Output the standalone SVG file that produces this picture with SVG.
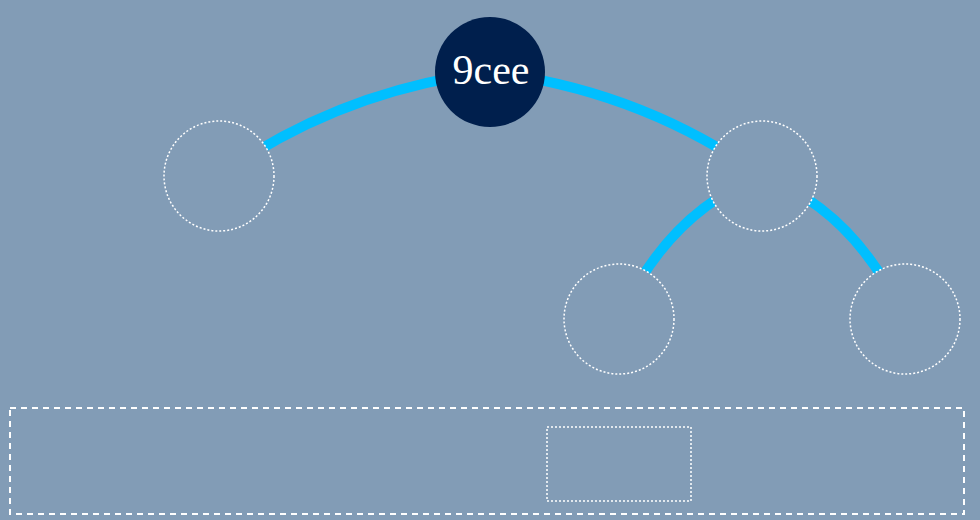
<svg xmlns="http://www.w3.org/2000/svg" width="980" height="520" viewBox="0 0 980 520">
<style>
.edge{fill:none;stroke:#00bfff;stroke-width:10}
.empty{fill:none;stroke:#ffffff;stroke-width:1.5;stroke-dasharray:2 2}
.lbl{font-family:"Liberation Serif","DejaVu Serif",serif;font-size:42px;fill:#ffffff;text-anchor:middle}
</style>
<rect x="0" y="0" width="980" height="520" fill="#829cb6"/>
<g id="connectors">
<path class="edge" d="M219,176 Q340,90 490,72"/>
<path class="edge" d="M490,72 Q640,90 762,176"/>
<path class="edge" d="M762,176 Q670,210 619,319"/>
<path class="edge" d="M762,176 Q854,210 905,319"/>
</g>
<g id="node-left"><circle cx="219" cy="176" r="55" fill="#829cb6"/><circle class="empty" cx="219" cy="176" r="55"/></g>
<g id="node-right"><circle cx="762" cy="176" r="55" fill="#829cb6"/><circle class="empty" cx="762" cy="176" r="55"/></g>
<g id="node-right-left"><circle cx="619" cy="319" r="55" fill="#829cb6"/><circle class="empty" cx="619" cy="319" r="55"/></g>
<g id="node-right-right"><circle cx="905" cy="319" r="55" fill="#829cb6"/><circle class="empty" cx="905" cy="319" r="55"/></g>
<g id="node-root"><circle cx="490" cy="72" r="55" fill="#001f4d"/><text class="lbl" x="491" y="84">9cee</text></g>
<g id="queue">
<rect x="10" y="408" width="954" height="106" fill="none" stroke="#ffffff" stroke-width="2" stroke-dasharray="6 5"/>
<rect x="547" y="427" width="144" height="74" fill="none" stroke="#ffffff" stroke-width="1.5" stroke-dasharray="2 2"/>
</g>
</svg>
